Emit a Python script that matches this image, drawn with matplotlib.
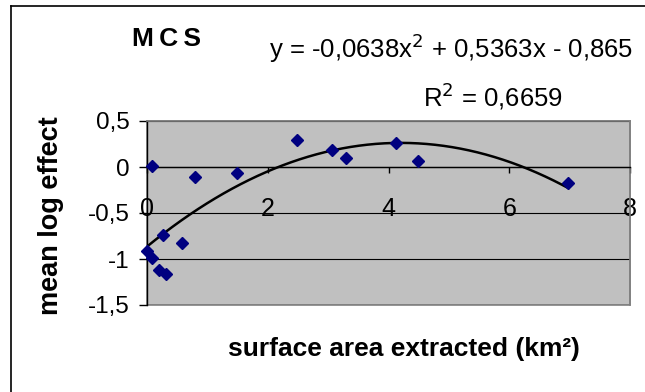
import numpy as np
import matplotlib
matplotlib.use("Agg")
import matplotlib.pyplot as plt
from matplotlib.lines import Line2D

plt.rcParams['font.family'] = ['Liberation Sans', 'DejaVu Sans']
plt.rcParams['axes.unicode_minus'] = False

# data
surface_area = [0.09, 0.79, 1.49, 2.48, 3.06, 3.30, 0.27, 0.58, 0.005, 0.09, 0.20, 0.31, 4.12, 4.49, 6.98]
mean_log_effect = [0.01, -0.11, -0.06, 0.29, 0.19, 0.10, -0.74, -0.83, -0.91, -0.99, -1.12, -1.16, 0.26, 0.065, -0.17]

# trendline coefficients shown on the chart
trend_coeffs = [-0.0638, 0.5363, -0.865]

x_ticks = [0, 2, 4, 6, 8]
x_tick_labels = ["0", "2", "4", "6", "8"]
y_ticks = [-1.5, -1.0, -0.5, 0.0, 0.5]
y_tick_labels = ["-1,5", "-1", "-0,5", "0", "0,5"]

W, H = 645, 392
fig = plt.figure(figsize=(W / 100, H / 100), dpi=100)
fig.patch.set_facecolor('white')

left, right, top, bottom = 147, 630, 121, 305
ax = fig.add_axes([left / W, 1 - bottom / H, (right - left) / W, (bottom - top) / H])
ax.set_facecolor('#C0C0C0')
ax.patch.set_edgecolor('#808080')
ax.patch.set_linewidth(1.2)

ax.set_xlim(0, 8)
ax.set_ylim(-1.5, 0.5)

ax.set_yticks(y_ticks)
ax.set_yticklabels(y_tick_labels)
ax.set_xticks(x_ticks)
ax.set_xticklabels(x_tick_labels)
ax.yaxis.grid(True, color='black', linewidth=0.8)
ax.set_axisbelow(True)

for s in ['top', 'right']:
    ax.spines[s].set_color('#808080')
    ax.spines[s].set_linewidth(1.2)
ax.spines['bottom'].set_position(('data', 0))
ax.spines['bottom'].set_color('black')
ax.spines['bottom'].set_linewidth(1.0)
ax.spines['left'].set_color('black')
ax.spines['left'].set_linewidth(1.0)

ax.tick_params(axis='y', direction='out', length=5.5, width=1.0, pad=7, labelsize=17.5)
ax.tick_params(axis='x', direction='out', length=4.3, width=1.0, pad=17, labelsize=18)

# trendline
xs = np.linspace(min(surface_area), max(surface_area), 200)
ax.plot(xs, np.polyval(trend_coeffs, xs), color='black', linewidth=1.8, zorder=3)

ax.plot(surface_area, mean_log_effect, linestyle='none', marker='D', markersize=6.2,
        color='#000080', markeredgecolor='#000080', zorder=4, clip_on=False)

# texts
fig.text(166 / W, 1 - 46 / H, "M\u2009C\u2009S", fontsize=19, fontweight='bold', ha='center', va='baseline')
fig.text(451 / W, 1 - 58 / H, "y = -0,0638x$^{2}$ + 0,5363x - 0,865", fontsize=18.5, ha='center', va='baseline')
fig.text(493 / W, 1 - 106 / H, "R$^{2}$ = 0,6659", fontsize=18.5, ha='center', va='baseline')
fig.text(51 / W, 1 - 216 / H, "mean log effect", fontsize=19.5, fontweight='bold', rotation=90,
         ha='center', va='center')
fig.text(404 / W, 1 - 349 / H, "surface area extracted (km²)", fontsize=19, fontweight='bold',
         ha='center', va='center')

# outer chart frame (left and top edges)
fig.add_artist(Line2D([11 / W, 11 / W], [0, 1 - 6 / H], transform=fig.transFigure, color='black', linewidth=1.2))
fig.add_artist(Line2D([11 / W, 1], [1 - 6 / H, 1 - 6 / H], transform=fig.transFigure, color='black', linewidth=1.2))

fig.savefig("out.png", dpi=100)
